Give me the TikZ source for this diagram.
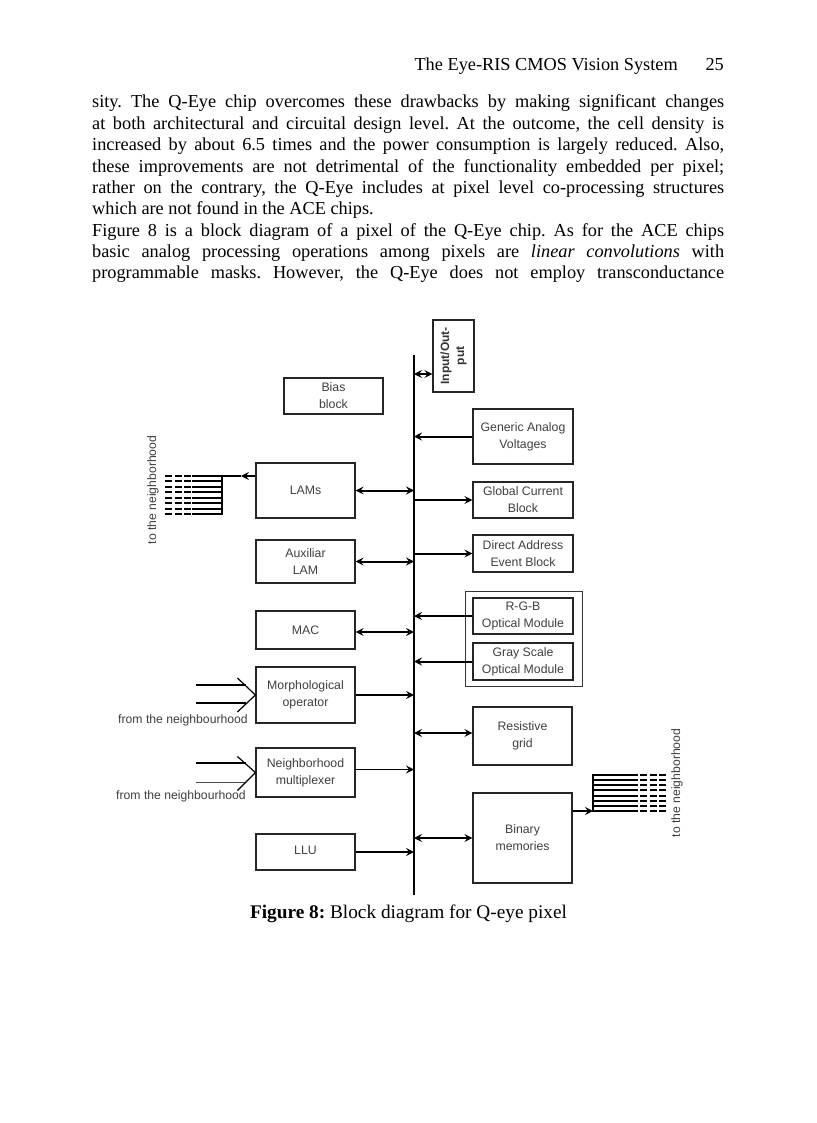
\documentclass[tikz,border=0pt]{standalone}
\usepackage{fontspec}
\setmainfont{Liberation Serif}
\setsansfont{Liberation Sans}
\usetikzlibrary{arrows.meta,calc}
\frenchspacing
\begin{document}
\frenchspacing
\begin{tikzpicture}[x=1pt,y=-1pt,
  blk/.style={draw=black!85, line width=1.2pt, font=\sffamily\fontsize{12.3}{17}\selectfont, text=black!75, align=center, inner sep=0pt},
  tip/.style={-{Stealth[length=8pt,width=8pt,inset=3pt]}, line width=2pt},
  dtip/.style={{Stealth[length=8pt,width=8pt,inset=3pt]}-{Stealth[length=8pt,width=8pt,inset=3pt]}, line width=2pt},
  thintip/.style={-{Stealth[length=8pt,width=8pt,inset=3pt]}, line width=1.1pt},
  bodyline/.style={anchor=base west, inner sep=0pt, font=\fontsize{18.3}{21.3}\selectfont},
  lbl/.style={font=\sffamily\fontsize{12.2}{14}\selectfont, text=black!75, inner sep=0pt},
  fanline/.style={line width=1.9pt},
  fandash/.style={line width=1.9pt, dash pattern=on 7pt off 2.5pt}
]
\fill[white] (0,0) rectangle (816,1123);
\useasboundingbox (0,0) rectangle (816,1123);

% header
\node[bodyline, anchor=base east] (hd) at (678,71) {The Eye-RIS CMOS Vision System};
\node[bodyline, anchor=base east] (pg) at (724,71) {25};

% body text
\node[bodyline] (l1) at (92,108) {\makebox[632pt][s]{sity. The Q-Eye chip overcomes these drawbacks by making significant changes}};
\node[bodyline] (l2) at (92,129.35) {\makebox[632pt][s]{at both architectural and circuital design level. At the outcome, the cell density is}};
\node[bodyline] (l3) at (92,150.7) {\makebox[632pt][s]{increased by about 6.5 times and the power consumption is largely reduced. Also,}};
\node[bodyline] (l4) at (92,172.05) {\makebox[632pt][s]{these improvements are not detrimental of the functionality embedded per pixel;}};
\node[bodyline] (l5) at (92,193.4) {\makebox[632pt][s]{rather on the contrary, the Q-Eye includes at pixel level co-processing structures}};
\node[bodyline] (l6) at (92,214.75) {which are not found in the ACE chips.};
\node[bodyline] (l7) at (92,236.1) {\makebox[632pt][s]{Figure 8 is a block diagram of a pixel of the Q-Eye chip. As for the ACE chips}};
\node[bodyline] (l8) at (92,257.45) {\makebox[632pt][s]{basic analog processing operations among pixels are \textit{linear convolutions} with}};
\node[bodyline] (l9) at (92,278.8) {\makebox[632pt][s]{programmable masks. However, the Q-Eye does not employ transconductance}};

% bus
\coordinate (bt) at (414,355);
\coordinate (bb) at (414,895);
\draw[line width=2.4pt] (bt) -- (bb);

% right blocks
\node[blk, minimum width=41pt, minimum height=72pt] (io) at (453.5,356) {};
\node[rotate=90, font=\sffamily\bfseries\fontsize{12}{15}\selectfont, text=black!80, align=center, inner sep=0pt] (iot) at (io.center) {Input/Out-\\put};
\node[blk, minimum width=99pt, minimum height=36pt] (bias) at (333.5,396) {Bias\\block};
\node[blk, minimum width=100pt, minimum height=55pt] (gav) at (523,436.5) {Generic Analog\\Voltages};
\node[blk, minimum width=100pt, minimum height=36pt] (gcb) at (523,500) {Global Current\\Block};
\node[blk, minimum width=100pt, minimum height=37pt] (dae) at (523,553.5) {Direct Address\\Event Block};
\node[draw=black!80, line width=1pt, minimum width=117pt, minimum height=95pt, inner sep=0pt] (opt) at (523.5,638.5) {};
\node[blk, minimum width=100pt, minimum height=36pt] (rgb) at (523,616) {R-G-B\\Optical Module};
\node[blk, minimum width=100pt, minimum height=37pt] (gso) at (523,661.5) {Gray Scale\\Optical Module};
\node[blk, minimum width=99pt, minimum height=58pt] (res) at (522.5,736) {Resistive\\grid};
\node[blk, minimum width=99pt, minimum height=90pt] (bin) at (522.5,838) {Binary\\memories};

% left blocks
\node[blk, minimum width=99pt, minimum height=55pt] (lams) at (305.5,490.5) {LAMs};
\node[blk, minimum width=99pt, minimum height=43pt] (aux) at (305.5,561.5) {Auxiliar\\LAM};
\node[blk, minimum width=99pt, minimum height=38pt] (mac) at (305.5,630) {MAC};
\node[blk, minimum width=99pt, minimum height=56pt] (morph) at (305.5,695) {Morphological\\operator};
\node[blk, minimum width=99pt, minimum height=49pt] (nm) at (305.5,772.5) {Neighborhood\\multiplexer};
\node[blk, minimum width=99pt, minimum height=36pt] (llu) at (305.5,852) {\raisebox{4pt}{LLU}};

% connectors right
\coordinate (bio) at (414,374);
\draw[dtip] (bio) -- (bio -| io.west);
\draw[tip] (gav.west) -- (gav.west -| bt);
\draw[tip] (gcb.west -| bt) -- (gcb.west);
\draw[tip] (dae.west -| bt) -- (dae.west);
\draw[tip] (rgb.west) -- (rgb.west -| bt);
\draw[tip] (gso.west) -- (gso.west -| bt);
\coordinate (rsy) at ($(res.west)+(0,-3)$);
\draw[dtip] (rsy -| bt) -- (rsy);
\draw[dtip] (bin.west -| bt) -- (bin.west);

% connectors left
\draw[dtip] (lams.east) -- (lams.east -| bt);
\draw[dtip] (aux.east) -- (aux.east -| bt);
\coordinate (mcy) at ($(mac.east)+(0,2)$);
\draw[dtip] (mcy) -- (mcy -| bt);
\draw[thintip] (morph.east) -- (morph.east -| bt);
\coordinate (nmy) at ($(nm.east)+(0,-3)$);
\draw[thintip] (nmy) -- (nmy -| bt);
\draw[tip] (llu.east) -- (llu.east -| bt);

% LAMs fan-out to the neighborhood
\coordinate (lf) at (222,476);
\coordinate (lftip) at (241,476);
\draw[tip] (lf -| lams.west) -- (lftip);
\draw[line width=1.4pt] (lftip) -- (lf);
\draw[line width=2pt] (222,475) -- (222,515);
\foreach \k [evaluate=\k as \yy using 476+5.43*\k] in {0,...,7}{
  \draw[fanline] (222,\yy) -- (192,\yy);
  \draw[fandash] (165,\yy) -- (192,\yy);
}
\node[lbl, rotate=90] (ltn) at (153,490) {to the neighborhood};

% Binary memories fan-out
\coordinate (rf) at (593,811);
\draw[tip] (rf -| bin.east) -- (rf);
\draw[line width=2pt] (593,774) -- (593,812);
\foreach \k [evaluate=\k as \yy using 775+5.14*\k] in {0,...,7}{
  \draw[fanline] (593,\yy) -- (638,\yy);
  \draw[fandash] (640,\yy) -- (667,\yy);
}
\node[lbl, rotate=90] (rtn) at (677,783) {to the neighborhood};

% inputs from the neighbourhood: morphological operator
\draw[line width=1.1pt] (196,685) -- (246,685);
\draw[line width=1.1pt] (196,703) -- (246,703);
\draw[line width=1.2pt] ($(morph.west)+(-18,-17)$) -- (morph.west) -- ($(morph.west)+(-18,17)$);
\node[lbl] (fn1) at (183,720) {from the neighbourhood};

% inputs from the neighbourhood: neighborhood multiplexer
\draw[line width=1.1pt] (196,763) -- (246,763);
\draw[line width=0.9pt, black!70] (196,782) -- (246,782);
\draw[line width=1.2pt] ($(nm.west)+(-18,-16)$) -- (nm.west) -- ($(nm.west)+(-18,18)$);
\node[lbl] (fn2) at (181,796) {from the neighbourhood};

% caption
\node[bodyline, anchor=base, font=\fontsize{19.3}{22}\selectfont] (cap) at (408.5,918) {\textbf{Figure 8:} Block diagram for Q-eye pixel};
\end{tikzpicture}
\end{document}
